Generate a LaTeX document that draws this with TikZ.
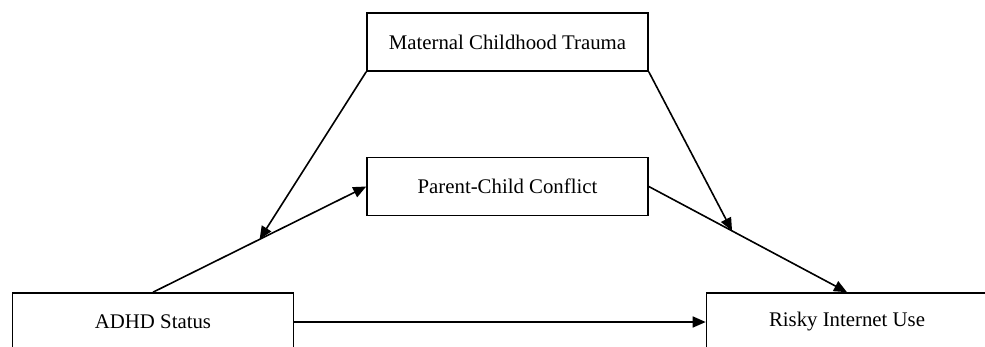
\documentclass[tikz,border=0pt]{standalone}
\usepackage{fontspec}
\setmainfont{Liberation Serif}
\usetikzlibrary{arrows.meta,calc}
\begin{document}
\begin{tikzpicture}[x=1pt,y=-1pt,
  box/.style={draw=black, line width=1.6pt, minimum width=281pt, minimum height=58pt, inner sep=0pt, font=\fontsize{20.8}{24}\selectfont, anchor=center},
  conn/.style={draw=black, line width=1.6pt, -{Triangle[length=13pt,width=11pt]}},
  plain/.style={draw=black, line width=1.6pt}]
\clip (0,0) rectangle (985,346);
\fill[white] (0,0) rectangle (985,346);
\node[box] (mct) at (507.5,42) {Maternal Childhood Trauma};
\node[box] (pcc) at (507.5,186.5) {Parent-Child Conflict};
\node[box] (adhd) at (153,322) {ADHD Status};
\node[box] (riu) at (847,322) {Risky Internet Use};
\coordinate (m1) at ($(adhd.north)!0.5!(pcc.west)$);
\coordinate (m2) at ($(pcc.east)!0.42!(riu.north)$);
\draw[conn] (adhd.north) -- (pcc.west);
\draw[conn] (pcc.east) -- (riu.north);
\draw[conn] (adhd.east) -- (riu.west);
\draw[conn] (mct.south west) -- (m1);
\draw[conn] (mct.south east) -- (m2);
\end{tikzpicture}
\end{document}
